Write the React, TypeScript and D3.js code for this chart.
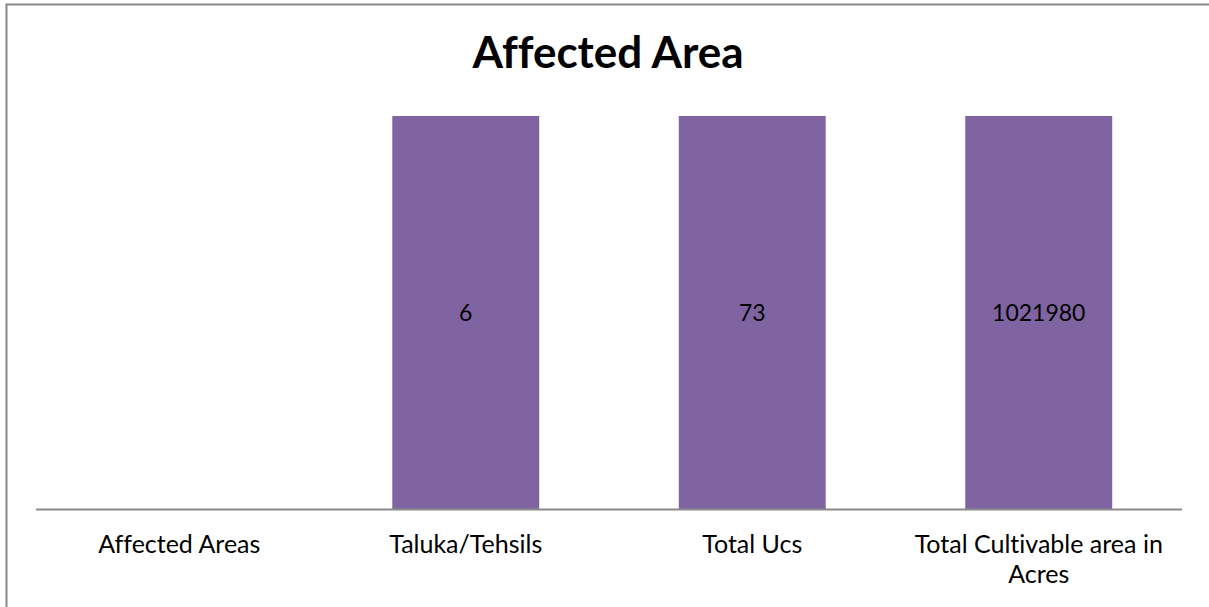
import React, { useEffect, useRef } from "react";
import * as d3 from "d3";

const title = "Affected Area";
const categories: string[] = [
  "Affected Areas",
  "Taluka/Tehsils",
  "Total Ucs",
  "Total Cultivable area in Acres",
];
// single series shown as a 100% stacked column per category
const values: (number | null)[] = [null, 6, 73, 1021980];

const W = 1209;
const H = 607;

export default function App() {
  const ref = useRef<SVGSVGElement | null>(null);

  useEffect(() => {
    const svg = d3.select(ref.current);
    svg.selectAll("*").remove();

    const font = "Lato, 'Open Sans', sans-serif";
    const margin = { left: 36, right: W - 1182, top: 116, bottom: H - 509 };

    // outer chart border (cut at right/bottom like the reference)
    svg
      .append("rect")
      .attr("x", 6.5)
      .attr("y", 4.5)
      .attr("width", W + 10)
      .attr("height", H + 10)
      .attr("fill", "#fff")
      .attr("stroke", "#878787")
      .attr("stroke-width", 2);

    const x = d3
      .scaleBand<string>()
      .domain(categories)
      .range([margin.left, W - margin.right])
      .paddingInner(0)
      .paddingOuter(0);

    const y = d3
      .scaleLinear()
      .domain([0, 1])
      .range([H - margin.bottom, margin.top]);

    const gapWidth = 0.95;
    const barW = x.bandwidth() / (1 + gapWidth);

    const data = categories.map((c, i) => ({
      cat: c,
      value: values[i],
      share: values[i] == null ? 0 : (values[i] as number) / (values[i] as number),
    }));

    const bars = data.filter((d) => d.value != null);

    svg
      .append("g")
      .selectAll("rect")
      .data(bars)
      .join("rect")
      .attr("x", (d) => (x(d.cat) as number) + (x.bandwidth() - barW) / 2)
      .attr("y", (d) => y(d.share))
      .attr("width", barW)
      .attr("height", (d) => y(0) - y(d.share))
      .attr("fill", "#8064A2");

    // data labels centered in bars
    svg
      .append("g")
      .selectAll("text")
      .data(bars)
      .join("text")
      .attr("x", (d) => (x(d.cat) as number) + x.bandwidth() / 2)
      .attr("y", (d) => (y(d.share) + y(0)) / 2)
      .attr("dy", "0.35em")
      .attr("text-anchor", "middle")
      .attr("font-family", font)
      .attr("font-size", 23)
      .style("font-variant-ligatures", "none")
      .attr("fill", "#000")
      .text((d) => String(d.value));

    // category axis line
    svg
      .append("line")
      .attr("x1", margin.left)
      .attr("x2", W - margin.right)
      .attr("y1", y(0) + 0.5)
      .attr("y2", y(0) + 0.5)
      .attr("stroke", "#8a8a8a")
      .attr("stroke-width", 2);

    // category labels with word wrapping
    const maxW = x.bandwidth() * 0.92;
    const lg = svg.append("g");
    categories.forEach((c) => {
      const cx = (x(c) as number) + x.bandwidth() / 2;
      const t = lg
        .append("text")
        .attr("x", cx)
        .attr("y", 553)
        .attr("text-anchor", "middle")
        .attr("font-family", font)
        .attr("font-size", 25)
        .style("font-variant-ligatures", "none")
        .attr("fill", "#000");
      const words = c.split(" ");
      let line: string[] = [];
      let tspan = t.append("tspan").attr("x", cx).attr("dy", 0);
      words.forEach((w) => {
        line.push(w);
        tspan.text(line.join(" "));
        const node = tspan.node() as SVGTSpanElement;
        if (node.getComputedTextLength() > maxW && line.length > 1) {
          line.pop();
          tspan.text(line.join(" "));
          line = [w];
          tspan = t.append("tspan").attr("x", cx).attr("dy", 30).text(w);
        }
      });
    });

    // title
    svg
      .append("text")
      .attr("x", 608)
      .attr("y", 68)
      .attr("text-anchor", "middle")
      .attr("font-family", font)
      .attr("font-weight", "bold")
      .attr("font-size", 44)
      .style("font-variant-ligatures", "none")
      .attr("fill", "#000")
      .text(title);
  }, []);

  return (
    <svg
      ref={ref}
      width={W}
      height={H}
      style={{ position: "absolute", left: 0, top: 0, display: "block", background: "#fff" }}
    />
  );
}
